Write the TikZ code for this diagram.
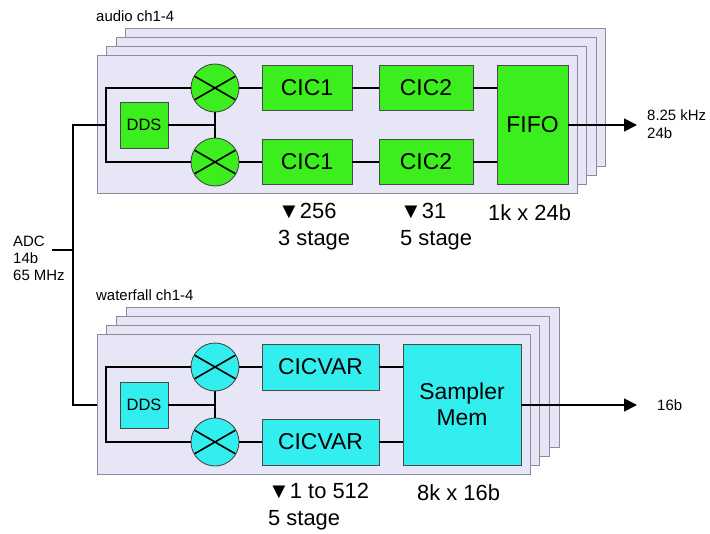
\documentclass[tikz,border=0pt]{standalone}
\usepackage{fontspec}
\setmainfont{Liberation Sans}
\usetikzlibrary{arrows.meta}
\definecolor{board}{HTML}{E6E6F7}
\definecolor{boardedge}{HTML}{8C8C9C}
\definecolor{lime}{HTML}{3CEE1E}
\definecolor{aqua}{HTML}{33EEEE}
\definecolor{edge}{HTML}{4A4A4A}

\begin{document}
\begin{tikzpicture}[x=1bp, y=-1bp,
          wire/.style={line width=1.6bp, black},
          brd/.style={draw=boardedge, fill=board, line width=1bp},
          blk/.style={draw=edge, line width=0.9bp, inner sep=0pt, align=center,
                      font=\fontsize{23}{26}\selectfont},
          dds/.style={blk, minimum width=48bp, minimum height=46bp,
                      font=\fontsize{16.5}{20}\selectfont},
          mix/.style={circle, draw=edge, line width=0.9bp, inner sep=0pt, minimum size=48bp,
                      path picture={\draw[wire] (path picture bounding box.center) +(150:30bp) -- +(-30:30bp)
                                    (path picture bounding box.center) +(30:30bp) -- +(210:30bp);}},
          note/.style={anchor=west, align=left, inner sep=0pt, font=\fontsize{15}{17.5}\selectfont},
          big/.style={anchor=west, align=left, inner sep=0pt, font=\fontsize{22}{27}\selectfont},
          feed/.style={wire, -{Triangle[length=13bp, width=13bp]}}]
        \useasboundingbox (0,0) rectangle (710,534);
        % audio channels
        \foreach \k in {3,2,1,0}
          \draw[brd] ({97+9.5*\k},{56-9.3*\k}) rectangle +(480,138);
        \node[note] (audiolbl) at (96,16) {audio ch1-4};
        \node[dds, fill=lime] (ddsA) at (144,125) {DDS};
        \node[mix, fill=lime] (mixA1) at (215,88) {};
        \node[mix, fill=lime] (mixA2) at (215,162) {};
        \node[blk, fill=lime, minimum width=90bp, minimum height=45bp] (cicA1) at (307,88) {CIC1};
        \node[blk, fill=lime, minimum width=90bp, minimum height=45bp] (cicA3) at (307,162) {CIC1};
        \node[blk, fill=lime, minimum width=94bp, minimum height=45bp] (cicA2) at (426,88) {CIC2};
        \node[blk, fill=lime, minimum width=94bp, minimum height=45bp] (cicA4) at (426,162) {CIC2};
        \node[blk, fill=lime, minimum width=71bp, minimum height=119bp] (fifo) at (532.5,125) {FIFO};
        \coordinate (inA) at (106,125);
        \draw[wire] (mixA1.west) -| (inA) |- (mixA2.west);
        \draw[wire] (ddsA.east) -- (ddsA.east -| mixA1.south);
        \draw[wire] (mixA1.south) -- (mixA2.north);
        \draw[wire] (mixA1) -- (cicA1) -- (cicA2);
        \draw[wire] (mixA2) -- (cicA3) -- (cicA4);
        \draw[wire] (cicA2.east) -- (cicA2.east -| fifo.west);
        \draw[wire] (cicA4.east) -- (cicA4.east -| fifo.west);
        \coordinate (endA) at (637,125);
        \draw[feed] (fifo.east) -- (endA);
        \node[note] (rateA) at (647,124) {8.25 kHz\\24b};
        \node[big] (decA1) at (278,226.5) {▼256\\3 stage};
        \node[big] (decA2) at (400,226.5) {▼31\\5 stage};
        \node[big] (memA) at (488,213) {1k x 24b};
        % ADC feed
        \node[note, font=\fontsize{15}{17}\selectfont] (adc) at (13,258) {ADC\\14b\\65 MHz};
        \coordinate (adcout) at (52,250);
        \coordinate (trunk) at (73,250);
        \coordinate (tapA) at (73,125);
        \coordinate (tapW) at (73,405);
        \coordinate (inW) at (106,405);
        \draw[wire] (adcout) -- (trunk);
        \draw[wire] (inA) -- (tapA) -- (tapW) -- (inW);
        % waterfall channels
        \foreach \k in {3,2,1,0}
          \draw[brd] ({97+9.7*\k},{334-9*\k}) rectangle +(433,140);
        \node[note] (wflbl) at (96,295) {waterfall ch1-4};
        \node[dds, fill=aqua] (ddsW) at (144,405) {DDS};
        \node[mix, fill=aqua] (mixW1) at (215,367) {};
        \node[mix, fill=aqua] (mixW2) at (215,442) {};
        \node[blk, fill=aqua, minimum width=117bp, minimum height=46bp] (cicW1) at (320.5,367) {CICVAR};
        \node[blk, fill=aqua, minimum width=117bp, minimum height=46bp] (cicW2) at (320.5,442) {CICVAR};
        \node[blk, fill=aqua, minimum width=118bp, minimum height=121bp] (smem) at (462,404.5) {Sampler\\Mem};
        \draw[wire] (mixW1.west) -| (inW) |- (mixW2.west);
        \draw[wire] (ddsW.east) -- (ddsW.east -| mixW1.south);
        \draw[wire] (mixW1.south) -- (mixW2.north);
        \draw[wire] (mixW1) -- (cicW1);
        \draw[wire] (mixW2) -- (cicW2);
        \draw[wire] (cicW1.east) -- (cicW1.east -| smem.west);
        \draw[wire] (cicW2.east) -- (cicW2.east -| smem.west);
        \coordinate (endW) at (637,405);
        \draw[feed] (smem.east |- endW) -- (endW);
        \node[note] (rateW) at (657,405) {16b};
        \node[big] (decW) at (268,506.5) {▼1 to 512\\5 stage};
        \node[big] (memW) at (417,493) {8k x 16b};
      \end{tikzpicture}
\end{document}
